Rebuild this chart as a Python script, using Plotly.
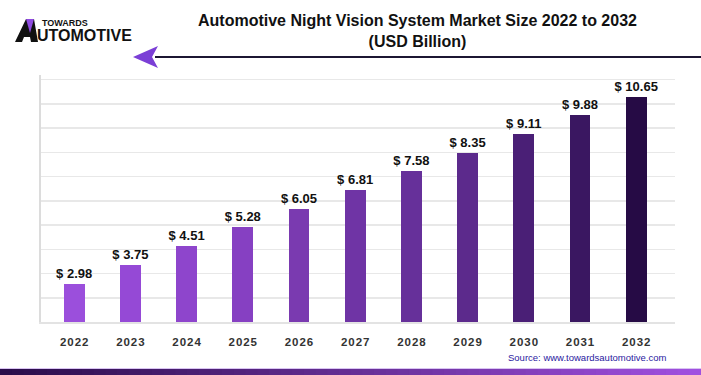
import plotly.graph_objects as go

years = [2022, 2023, 2024, 2025, 2026, 2027, 2028, 2029, 2030, 2031, 2032]
values = [2.98, 3.75, 4.51, 5.28, 6.05, 6.81, 7.58, 8.35, 9.11, 9.88, 10.65]
value_labels = ["$ 2.98", "$ 3.75", "$ 4.51", "$ 5.28", "$ 6.05", "$ 6.81",
                "$ 7.58", "$ 8.35", "$ 9.11", "$ 9.88", "$ 10.65"]
tick_labels = ["2\u200a0\u200a2\u200a2", "2\u200a0\u200a2\u200a3", "2\u200a0\u200a2\u200a4",
               "2\u200a0\u200a2\u200a5", "2\u200a0\u200a2\u200a6", "2\u200a0\u200a2\u200a7",
               "2\u200a0\u200a2\u200a8", "2\u200a0\u200a2\u200a9", "2\u200a0\u200a3\u200a0",
               "2\u200a0\u200a3\u200a1", "2\u200a0\u200a3\u200a2"]
bar_colors = ["#9b4fdc", "#9549d6", "#8e45cc", "#8640c2", "#7a3ab0", "#6f34a5",
              "#66309a", "#5c2a8c", "#4a1f76", "#3a1761", "#260b45"]

title_text = "Automotive Night Vision System Market Size 2022 to 2032<br>(USD Billion)"
source_text = "Source: www.towardsautomotive.com"

FONT = "Liberation Sans, Arial, sans-serif"
AXIS_BASE = 1.4

fig = go.Figure()
fig.add_trace(go.Bar(
    x=years, y=[v - AXIS_BASE for v in values],
    base=AXIS_BASE,
    width=0.37,
    marker=dict(color=bar_colors, line=dict(width=0)),
    text=value_labels,
    textposition="outside",
    constraintext="none",
    textfont=dict(family=FONT, size=13, color="#111111", weight="bold"),
    cliponaxis=False,
    hoverinfo="skip",
))

fig.update_layout(
    width=701, height=375,
    margin=dict(l=41, r=26, t=75, b=53),
    paper_bgcolor="white", plot_bgcolor="white",
    showlegend=False,
    bargap=0,
    font=dict(family=FONT),
    xaxis=dict(
        range=[2021.41, 2032.69],
        tickmode="array", tickvals=years, ticktext=tick_labels,
        tickfont=dict(family=FONT, size=11.5, color="#333333", weight="bold"),
        showgrid=False, zeroline=False,
        showline=True, linecolor="#e3e3e3", linewidth=2,
        ticks="", ticklabelstandoff=8,
    ),
    yaxis=dict(
        range=[AXIS_BASE, 11.54],
        tick0=AXIS_BASE, dtick=0.995,
        showticklabels=False,
        showgrid=True, gridcolor="#e8e8e8", gridwidth=1.5,
        zeroline=False,
        showline=True, linecolor="#dcdcdc", linewidth=2,
        ticks="",
    ),
)


def px(x):
    return (x - 41) / 634


def py(y):
    return (322 - y) / 247


# Title
fig.add_annotation(
    text="<b>" + title_text + "</b>", xref="paper", yref="paper",
    x=px(417.5), y=py(31),
    showarrow=False, font=dict(family=FONT, size=16, color="#111111"),
    align="center", xanchor="center", yanchor="middle",
)

# Header line with arrow
fig.add_shape(type="line", xref="paper", yref="paper",
              x0=px(155), x1=px(702), y0=py(57), y1=py(57),
              line=dict(color="#1c1733", width=2))
fig.add_shape(type="path", xref="paper", yref="paper",
              path=f"M {px(133)},{py(57)} L {px(158)},{py(46)} "
                   f"L {px(152)},{py(57)} L {px(158)},{py(68)} Z",
              fillcolor="#7b3fd6", line=dict(width=0))

# Logo
fig.add_shape(type="path", xref="paper", yref="paper",
              path=(f"M {px(15)},{py(42)} L {px(26)},{py(19)} L {px(34)},{py(19)} "
                    f"L {px(38)},{py(42)} L {px(31)},{py(42)} L {px(30)},{py(37)} "
                    f"L {px(24)},{py(37)} L {px(22)},{py(42)} Z"),
              fillcolor="#111111", line=dict(width=0))
fig.add_shape(type="path", xref="paper", yref="paper",
              path=f"M {px(26)},{py(19)} L {px(34)},{py(19)} L {px(30)},{py(33)} Z",
              fillcolor="#8f4be0", line=dict(width=0))
fig.add_annotation(text="<b>TOWARDS</b>", xref="paper", yref="paper",
                   x=px(40), y=py(23), xanchor="left", yanchor="middle",
                   showarrow=False, font=dict(family=FONT, size=9, color="#111111"))
fig.add_annotation(text="<b>UTOMOTIVE</b>", xref="paper", yref="paper",
                   x=px(35), y=py(35), xanchor="left", yanchor="middle",
                   showarrow=False, font=dict(family=FONT, size=16, color="#111111"))

# Source
fig.add_annotation(text=source_text, xref="paper", yref="paper",
                   x=px(668), y=py(357), xanchor="right", yanchor="middle",
                   showarrow=False, font=dict(family=FONT, size=9.5, color="#2a1aa0"))

# Bottom gradient strip
n = 60
c0 = (0x2a, 0x0d, 0x4a)
c1 = (0xa0, 0x50, 0xe0)
for i in range(n):
    t = i / (n - 1)
    col = "rgb({},{},{})".format(*[int(a + (b - a) * t) for a, b in zip(c0, c1)])
    fig.add_shape(type="rect", xref="paper", yref="paper",
                  x0=px(701 * i / n), x1=px(701 * (i + 1) / n + 1),
                  y0=py(376), y1=py(369), fillcolor=col, line=dict(width=0), layer="above")
fig.add_shape(type="rect", xref="paper", yref="paper",
              x0=px(0), x1=px(701), y0=py(369), y1=py(368),
              fillcolor="#d9c3f2", line=dict(width=0))

fig.write_html("out.html", config={"displayModeBar": False, "staticPlot": True},
               post_script="document.body.style.margin='0';document.body.style.overflow='hidden';")
